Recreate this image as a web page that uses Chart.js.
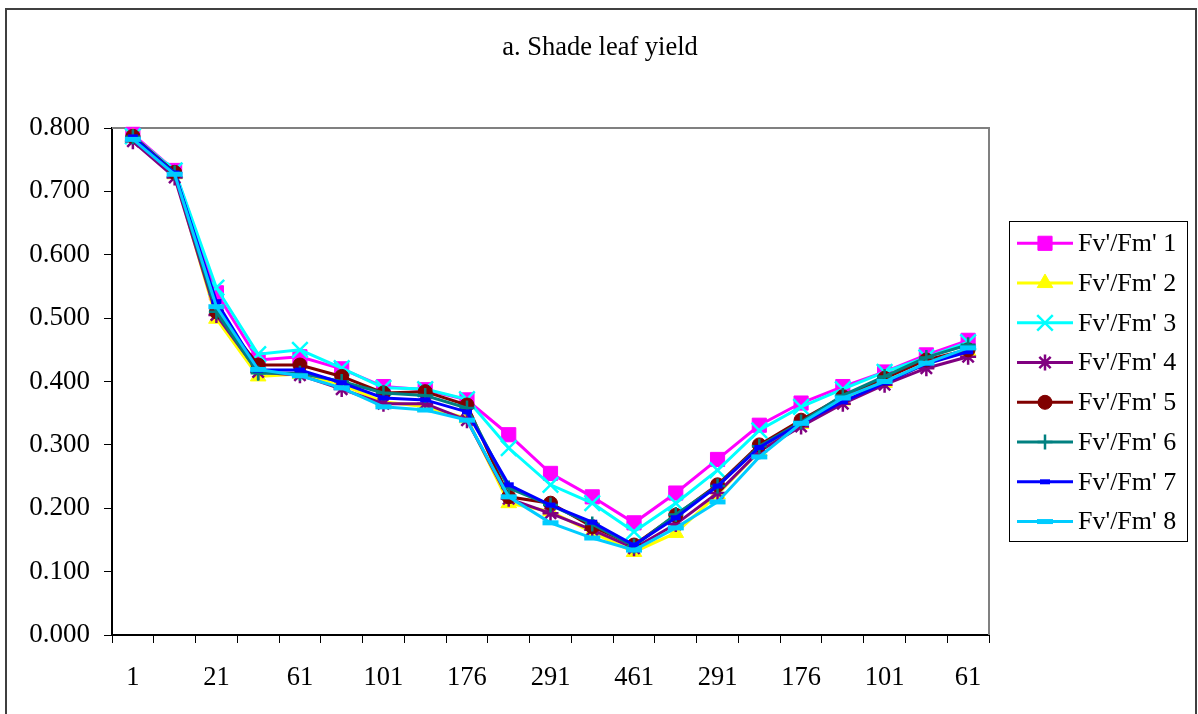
<!DOCTYPE html>
<html>
<head>
<meta charset="utf-8">
<title>a. Shade leaf yield</title>
<script src="https://cdn.jsdelivr.net/npm/chart.js@4.4.1/dist/chart.umd.min.js"></script>
<style>
  html, body { margin: 0; padding: 0; background: #ffffff; }
  #wrap { position: relative; width: 1198px; height: 714px; }
  canvas { display: block; }
</style>
</head>
<body>
<div id="wrap"><canvas id="chart" width="1198" height="714"></canvas></div>
<script>
// PAR steps along the light curve; only every other step carries a label
const tickLabels = ['1', '', '21', '', '61', '', '101', '', '176', '', '291', '',
                    '461', '', '291', '', '176', '', '101', '', '61'];

const seriesNames = ["Fv'/Fm' 1", "Fv'/Fm' 2", "Fv'/Fm' 3", "Fv'/Fm' 4",
                     "Fv'/Fm' 5", "Fv'/Fm' 6", "Fv'/Fm' 7", "Fv'/Fm' 8"];

const yield1 = [0.790, 0.733, 0.540, 0.434, 0.439, 0.420, 0.392, 0.387, 0.371, 0.316, 0.255,
                0.218, 0.177, 0.224, 0.277, 0.331, 0.366, 0.392, 0.415, 0.442, 0.465];
const yield2 = [0.785, 0.727, 0.499, 0.408, 0.412, 0.395, 0.368, 0.360, 0.342, 0.208, 0.195,
                0.162, 0.131, 0.161, 0.222, 0.290, 0.333, 0.370, 0.398, 0.428, 0.448];
const yield3 = [0.787, 0.733, 0.548, 0.443, 0.450, 0.421, 0.390, 0.388, 0.372, 0.295, 0.237,
                0.208, 0.163, 0.208, 0.260, 0.323, 0.360, 0.388, 0.415, 0.438, 0.462];
const yield4 = [0.779, 0.722, 0.505, 0.415, 0.410, 0.388, 0.365, 0.365, 0.339, 0.215, 0.192,
                0.166, 0.137, 0.175, 0.224, 0.290, 0.329, 0.365, 0.395, 0.421, 0.439];
const yield5 = [0.787, 0.730, 0.510, 0.426, 0.426, 0.408, 0.382, 0.384, 0.363, 0.218, 0.208,
                0.171, 0.142, 0.189, 0.237, 0.300, 0.339, 0.376, 0.405, 0.434, 0.450];
const yield6 = [0.786, 0.729, 0.510, 0.413, 0.413, 0.400, 0.382, 0.378, 0.358, 0.232, 0.205,
                0.175, 0.140, 0.190, 0.235, 0.298, 0.336, 0.378, 0.408, 0.438, 0.458];
const yield7 = [0.786, 0.729, 0.526, 0.418, 0.418, 0.398, 0.374, 0.371, 0.352, 0.237, 0.205,
                0.178, 0.142, 0.185, 0.235, 0.296, 0.334, 0.368, 0.398, 0.428, 0.447];
const yield8 = [0.782, 0.727, 0.518, 0.419, 0.409, 0.390, 0.360, 0.355, 0.339, 0.218, 0.177,
                0.153, 0.134, 0.169, 0.210, 0.281, 0.334, 0.374, 0.400, 0.429, 0.453];

const seriesValues = [yield1, yield2, yield3, yield4, yield5, yield6, yield7, yield8];

// Marker look for each series (Excel-like symbols)
const seriesStyles = [
  { color: '#FF00FF', fill: '#FF00FF', pointStyle: 'rect',     radius: 10,  pw: 1 },
  { color: '#FFFF00', fill: '#FFFF00', pointStyle: 'triangle', radius: 9,   pw: 1 },
  { color: '#00FFFF', fill: 'rgba(0,0,0,0)', pointStyle: 'crossRot', radius: 11, pw: 2.5 },
  { color: '#800080', fill: 'rgba(0,0,0,0)', pointStyle: 'star',     radius: 8,  pw: 2.5 },
  { color: '#800000', fill: '#800000', pointStyle: 'circle',   radius: 7,   pw: 1 },
  { color: '#008080', fill: 'rgba(0,0,0,0)', pointStyle: 'cross',    radius: 7.5, pw: 2.5 },
  { color: '#0000FF', fill: '#0000FF', pointStyle: 'line',     radius: 5,   pw: 5 },
  { color: '#00CCFF', fill: '#00CCFF', pointStyle: 'line',     radius: 8,   pw: 5 }
];

const FONT_FAMILY = '"Liberation Serif", "Times New Roman", serif';

const datasets = seriesValues.map((vals, i) => ({
  label: seriesNames[i],
  data: vals,
  borderColor: seriesStyles[i].color,
  backgroundColor: seriesStyles[i].fill,
  borderWidth: 3,
  tension: 0,
  pointStyle: seriesStyles[i].pointStyle,
  pointRadius: seriesStyles[i].radius,
  pointHoverRadius: seriesStyles[i].radius,
  pointBorderWidth: seriesStyles[i].pw,
  pointBorderColor: seriesStyles[i].color,
  pointBackgroundColor: seriesStyles[i].fill,
  order: seriesValues.length - i,
  clip: false
}));

// Small fallback in case the helpers namespace is missing
function markerPath(ctx, st, x, y) {
  const r = st.radius;
  ctx.beginPath();
  switch (st.pointStyle) {
    case 'rect': {
      const s = Math.SQRT1_2 * r;
      ctx.rect(x - s, y - s, 2 * s, 2 * s); break;
    }
    case 'triangle': {
      let a = 0;
      ctx.moveTo(x + Math.sin(a) * r, y - Math.cos(a) * r);
      a += 2 * Math.PI / 3; ctx.lineTo(x + Math.sin(a) * r, y - Math.cos(a) * r);
      a += 2 * Math.PI / 3; ctx.lineTo(x + Math.sin(a) * r, y - Math.cos(a) * r);
      ctx.closePath(); break;
    }
    case 'crossRot': {
      const d = Math.SQRT1_2 * r;
      ctx.moveTo(x - d, y - d); ctx.lineTo(x + d, y + d);
      ctx.moveTo(x + d, y - d); ctx.lineTo(x - d, y + d); break;
    }
    case 'cross':
      ctx.moveTo(x - r, y); ctx.lineTo(x + r, y);
      ctx.moveTo(x, y - r); ctx.lineTo(x, y + r); break;
    case 'star': {
      const d = Math.SQRT1_2 * r;
      ctx.moveTo(x - r, y); ctx.lineTo(x + r, y);
      ctx.moveTo(x, y - r); ctx.lineTo(x, y + r);
      ctx.moveTo(x - d, y - d); ctx.lineTo(x + d, y + d);
      ctx.moveTo(x + d, y - d); ctx.lineTo(x - d, y + d); break;
    }
    case 'line':
      ctx.moveTo(x - r, y); ctx.lineTo(x + r, y); break;
    default:
      ctx.arc(x, y, r, 0, Math.PI * 2); ctx.closePath();
  }
  ctx.fill();
  ctx.stroke();
}

// Frame, plot-area outline, title and boxed legend
const decorPlugin = {
  id: 'decor',
  beforeDatasetsDraw(chart) {
    const { ctx, chartArea: a } = chart;
    ctx.save();
    ctx.strokeStyle = '#808080';
    ctx.lineWidth = 2;
    ctx.beginPath();
    ctx.moveTo(a.left, a.top);
    ctx.lineTo(a.right, a.top);
    ctx.lineTo(a.right, a.bottom);
    ctx.stroke();
    ctx.restore();
  },
  afterDraw(chart) {
    const ctx = chart.ctx;
    ctx.save();
    // outer frame
    ctx.strokeStyle = '#000000';
    ctx.lineWidth = 1.5;
    ctx.beginPath();
    ctx.moveTo(6, 720); ctx.lineTo(6, 9);
    ctx.moveTo(1196, 9); ctx.lineTo(1196, 720);
    ctx.stroke();
    ctx.strokeStyle = '#404040';
    ctx.lineWidth = 2;
    ctx.beginPath();
    ctx.moveTo(5, 9); ctx.lineTo(1197, 9);
    ctx.stroke();

    // title
    ctx.fillStyle = '#000000';
    ctx.font = '26.5px ' + FONT_FAMILY;
    ctx.textAlign = 'center';
    ctx.textBaseline = 'middle';
    ctx.fillText('a. Shade leaf yield', 600, 48);

    // legend box
    ctx.strokeStyle = '#000000';
    ctx.lineWidth = 1;
    ctx.strokeRect(1009.5, 221.5, 178, 320);
    const drawPoint = (Chart.helpers && Chart.helpers.drawPoint) ? Chart.helpers.drawPoint : null;
    seriesNames.forEach((name, i) => {
      const st = seriesStyles[i];
      const y = 243.3 + i * 39.75;
      ctx.strokeStyle = st.color;
      ctx.lineWidth = 3;
      ctx.beginPath();
      ctx.moveTo(1017, y); ctx.lineTo(1073, y);
      ctx.stroke();
      ctx.fillStyle = st.fill;
      ctx.strokeStyle = st.color;
      ctx.lineWidth = st.pw;
      if (drawPoint) {
        drawPoint(ctx, { pointStyle: st.pointStyle, radius: st.radius, rotation: 0, borderWidth: st.pw }, 1045, y);
      } else {
        markerPath(ctx, st, 1045, y);
      }
      ctx.fillStyle = '#000000';
      ctx.font = '26px ' + FONT_FAMILY;
      ctx.textAlign = 'left';
      ctx.textBaseline = 'middle';
      ctx.fillText(name, 1078, y + 1);
    });
    ctx.restore();
  }
};

new Chart(document.getElementById('chart'), {
  type: 'line',
  data: { labels: tickLabels, datasets },
  options: {
    responsive: false,
    animation: false,
    devicePixelRatio: 1,
    layout: { padding: { left: 0, right: 209, top: 128, bottom: 0 } },
    plugins: {
      legend: { display: false },
      title: { display: false },
      tooltip: { enabled: false }
    },
    scales: {
      x: {
        type: 'category',
        offset: true,
        grid: { offset: true, drawOnChartArea: false, tickLength: 8, color: '#000000', lineWidth: 1 },
        border: { display: true, color: '#000000', width: 2 },
        ticks: {
          autoSkip: false,
          maxRotation: 0,
          minRotation: 0,
          padding: 19,
          color: '#000000',
          font: { family: FONT_FAMILY, size: 26.5 }
        },
        afterFit(scale) { scale.height = 79; }
      },
      y: {
        min: 0,
        max: 0.8,
        grid: { drawOnChartArea: false, tickLength: 8, color: '#000000', lineWidth: 1 },
        border: { display: true, color: '#000000', width: 2 },
        ticks: {
          stepSize: 0.1,
          padding: 14,
          color: '#000000',
          font: { family: FONT_FAMILY, size: 27 },
          callback: (v) => Number(v).toFixed(3)
        },
        afterFit(scale) { scale.width = 112; }
      }
    }
  },
  plugins: [decorPlugin]
});
</script>
</body>
</html>
